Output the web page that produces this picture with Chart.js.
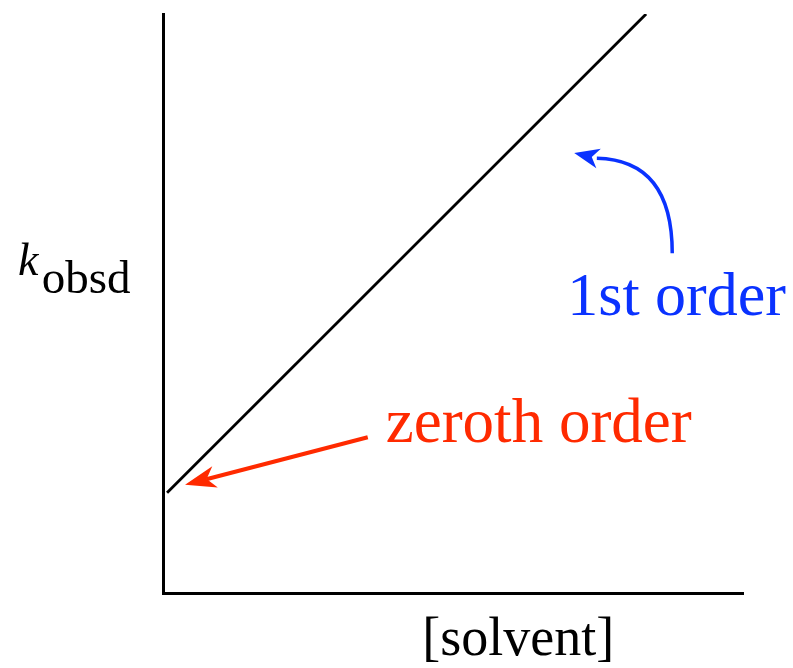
<!DOCTYPE html>
<html>
<head>
<meta charset="utf-8">
<script src="https://cdn.jsdelivr.net/npm/chart.js@4"></script>
<style>
  html, body { margin: 0; padding: 0; background: #fff; }
  #box { width: 793px; height: 668px; }
</style>
</head>
<body>
<div id="box"><canvas id="grafico"></canvas></div>
<script>
// dados da reta (unidades arbitrárias, eixos sem marcas)
const solvente = [0.07, 8.33];
const kObsd = [1.73, 10];

// anotações, também em unidades do gráfico
const textoZero = "zeroth order";
const textoPrimeira = "1st order";
const setaVermelha = { de: [3.53, 2.69], para: [0.38, 1.87] };
const setaAzul = { de: [8.78, 5.87], ctrl: [8.78, 7.48], ate: [7.48, 7.51], ponta: [7.09, 7.60] };

const vermelho = "#ff2a00";
const azul = "#0a32ff";
const fonte = '"Liberation Serif", "Times New Roman", Times, "DejaVu Serif", serif';

function ponta(ctx, tx, ty, ang, comp, larg, cor) {
  // cabeça de seta com entalhe
  ctx.save();
  ctx.translate(tx, ty);
  ctx.rotate(ang);
  ctx.fillStyle = cor;
  ctx.beginPath();
  ctx.moveTo(0, 0);
  ctx.lineTo(-comp, -larg);
  ctx.lineTo(-comp * 0.72, 0);
  ctx.lineTo(-comp, larg);
  ctx.closePath();
  ctx.fill();
  ctx.restore();
}

const anotacoes = {
  id: "anotacoes",
  afterDatasetsDraw(chart) {
    const ctx = chart.ctx;
    const sx = chart.scales.x, sy = chart.scales.y;
    const px = (p) => [sx.getPixelForValue(p[0]), sy.getPixelForValue(p[1])];

    ctx.save();
    ctx.textBaseline = "alphabetic";
    ctx.textAlign = "left";

    // rótulo do eixo x
    ctx.fillStyle = "#000";
    ctx.font = "54px " + fonte;
    let p = px([4.47, -1.07]);
    ctx.fillText("[solvent]", p[0], p[1]);

    // rótulo do eixo y: k com subscrito
    ctx.font = "italic 46px " + fonte;
    p = px([-2.5, 5.49]);
    ctx.fillText("k", p[0], p[1]);
    ctx.font = "47px " + fonte;
    p = px([-2.09, 5.18]);
    ctx.fillText("obsd", p[0], p[1]);

    // zeroth order
    ctx.fillStyle = vermelho;
    ctx.font = "63px " + fonte;
    p = px([3.84, 2.61]);
    ctx.fillText(textoZero, p[0], p[1]);

    const a = px(setaVermelha.de), b = px(setaVermelha.para);
    const ang = Math.atan2(b[1] - a[1], b[0] - a[0]);
    ctx.strokeStyle = vermelho;
    ctx.lineWidth = 4;
    ctx.beginPath();
    ctx.moveTo(a[0], a[1]);
    ctx.lineTo(b[0] - Math.cos(ang) * 22, b[1] - Math.sin(ang) * 22);
    ctx.stroke();
    ponta(ctx, b[0], b[1], ang, 31, 11, vermelho);

    // 1st order
    ctx.fillStyle = azul;
    ctx.font = "62px " + fonte;
    p = px([6.97, 4.80]);
    ctx.fillText(textoPrimeira, p[0], p[1]);

    const c0 = px(setaAzul.de), c1 = px(setaAzul.ctrl), c2 = px(setaAzul.ate), c3 = px(setaAzul.ponta);
    ctx.strokeStyle = azul;
    ctx.lineWidth = 3.5;
    ctx.beginPath();
    ctx.moveTo(c0[0], c0[1]);
    ctx.quadraticCurveTo(c1[0], c1[1], c2[0], c2[1]);
    ctx.stroke();
    const ang2 = Math.atan2(c3[1] - c2[1], c3[0] - c2[0]);
    ponta(ctx, c3[0], c3[1], ang2, 25, 10, azul);

    ctx.restore();
  }
};

new Chart(document.getElementById("grafico"), {
  type: "scatter",
  data: {
    datasets: [{
      data: solvente.map((x, i) => ({ x: x, y: kObsd[i] })),
      showLine: true,
      borderColor: "#000",
      borderWidth: 2.8,
      pointRadius: 0,
      tension: 0
    }]
  },
  options: {
    responsive: true,
    maintainAspectRatio: false,
    animation: false,
    layout: { padding: { left: 163, right: 50, top: 14, bottom: 75 } },
    plugins: {
      legend: { display: false },
      tooltip: { enabled: false }
    },
    scales: {
      x: {
        type: "linear",
        min: 0, max: 10,
        ticks: { display: false },
        grid: { display: false, drawTicks: false },
        border: { display: true, color: "#000", width: 3 }
      },
      y: {
        type: "linear",
        min: 0, max: 10,
        ticks: { display: false },
        grid: { display: false, drawTicks: false },
        border: { display: true, color: "#000", width: 3 }
      }
    }
  },
  plugins: [anotacoes]
});
</script>
</body>
</html>
